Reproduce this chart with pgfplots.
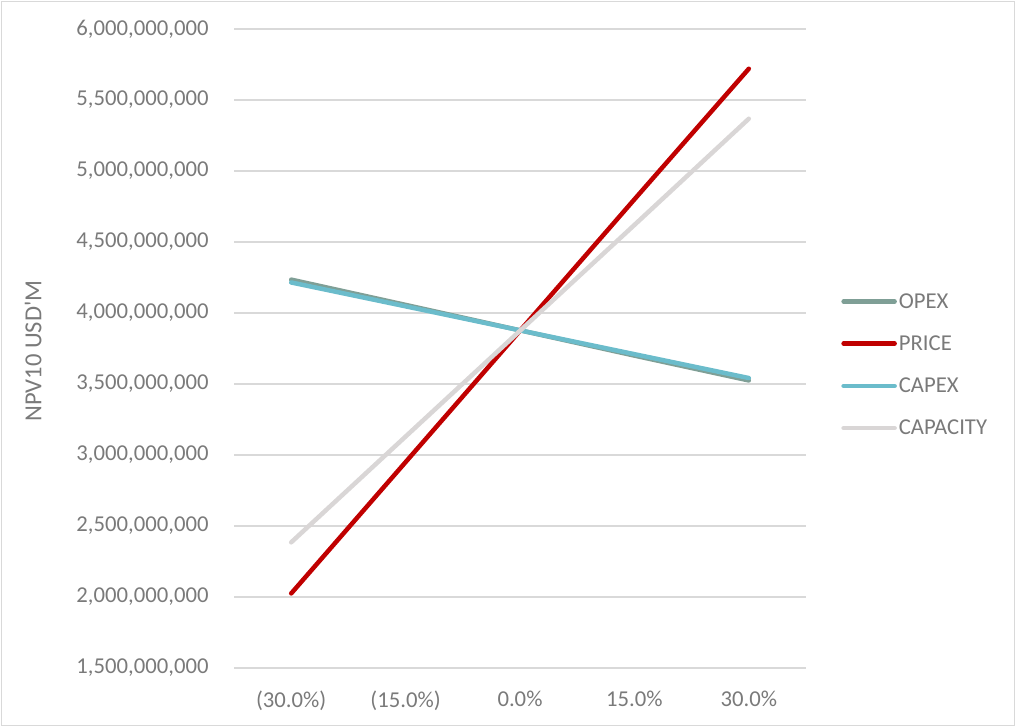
\documentclass[border=0pt]{standalone}
\usepackage{pgfplots}
\pgfplotsset{compat=1.18}
\usepackage{fontspec}
\setmainfont{Carlito}

\definecolor{opexc}{HTML}{7F9F96}
\definecolor{pricec}{HTML}{C00000}
\definecolor{capexc}{HTML}{6BBCCB}
\definecolor{capac}{HTML}{D9D6D6}
\definecolor{gridc}{HTML}{D9D9D9}
\definecolor{txtc}{HTML}{7A7A7A}

\newcommand{\lblfont}{\fontsize{22.7bp}{27bp}\selectfont}

\begin{document}
\begin{tikzpicture}
\path[use as bounding box] (0,0) rectangle (1016bp,727bp);
\draw[gridc, line width=1.5bp] (1.5bp,1.5bp) rectangle (1014.5bp,725.5bp);
\begin{axis}[
  at={(234bp,59bp)}, anchor=south west,
  scale only axis,
  width=572bp, height=639bp,
  xmin=-0.5, xmax=4.5,
  ymin=1.5e9, ymax=6e9,
  scaled y ticks=false,
  axis line style={draw=none},
  ymajorgrids,
  grid style={gridc, line width=1.5bp},
  major tick length=0pt,
  xtick={0,1,2,3,4},
  xticklabels={(30.0\%),(15.0\%),0.0\%,15.0\%,30.0\%},
  ytick={1.5e9,2e9,2.5e9,3e9,3.5e9,4e9,4.5e9,5e9,5.5e9,6e9},
  yticklabels={{1,500,000,000},{2,000,000,000},{2,500,000,000},{3,000,000,000},{3,500,000,000},{4,000,000,000},{4,500,000,000},{5,000,000,000},{5,500,000,000},{6,000,000,000}},
  /pgf/number format/assume math mode=true,
  tick label style={font=\lblfont, text=txtc},
  xticklabel style={yshift=-19bp},
  yticklabel style={xshift=-22bp},
  ylabel={NPV10 USD\textquotesingle M},
  ylabel style={font=\fontsize{24.5bp}{29bp}\selectfont, text=txtc, at={(axis description cs:-0.351,0.496)}, anchor=center, rotate=0},
  legend style={draw=none, fill=none, at={(axis description cs:1.0615,0.4745)}, anchor=west,
    inner sep=0pt, row sep=24bp,
    nodes={font=\lblfont, text=txtc, inner xsep=2bp, inner ysep=1bp}},
  legend cell align=left,
  legend image code/.code={\draw[#1, line width=4.5bp, line cap=round] (0bp,0bp) -- (51bp,0bp);},
  every axis plot/.append style={line width=4.5bp, line cap=round, line join=round},
]
\addplot[opexc] coordinates {(0,4.235e9) (1,4.057e9) (2,3.878e9) (3,3.700e9) (4,3.525e9)};
\addlegendentry{OPEX}
\addplot[pricec] coordinates {(0,2.025e9) (1,2.950e9) (2,3.875e9) (3,4.800e9) (4,5.720e9)};
\addlegendentry{PRICE}
\addplot[capexc] coordinates {(0,4.215e9) (1,4.047e9) (2,3.878e9) (3,3.710e9) (4,3.542e9)};
\addlegendentry{CAPEX}
\addplot[capac] coordinates {(0,2.385e9) (1,3.130e9) (2,3.875e9) (3,4.620e9) (4,5.368e9)};
\addlegendentry{CAPACITY}
\end{axis}
\end{tikzpicture}
\end{document}
